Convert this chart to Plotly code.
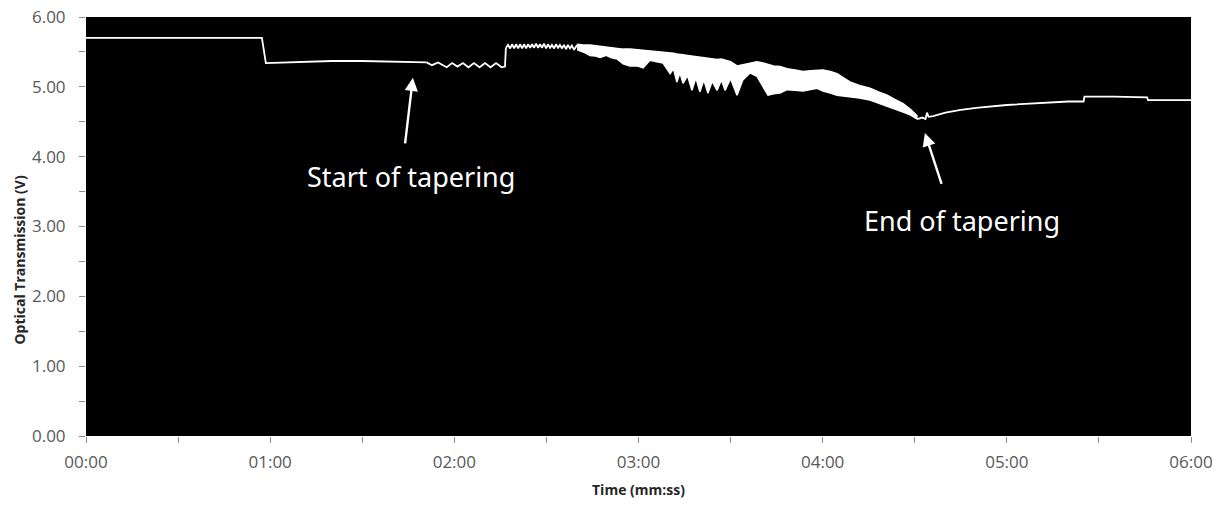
import plotly.graph_objects as go

# Elapsed time in seconds, optical transmission in volts
t_pre = [0, 10, 20, 30, 40, 50, 57.3, 58.6, 65, 70, 75, 80, 90, 100, 105, 111.0]
v_pre = [5.70, 5.70, 5.71, 5.71, 5.70, 5.71, 5.70, 5.34, 5.35, 5.35, 5.36, 5.37, 5.37, 5.36, 5.36, 5.35]

# First ripple, just before the step up
t_ripple1 = [111.0, 112.7, 114.7, 117.5, 119.3, 121.0, 122.8, 124.6, 126.4, 128.2,
             130.0, 131.8, 133.6, 135.4, 136.5, 136.8]
v_ripple1 = [5.35, 5.31, 5.35, 5.28, 5.34, 5.29, 5.34, 5.28, 5.34, 5.28,
             5.34, 5.28, 5.34, 5.28, 5.29, 5.56]

# Second ripple, after the step up
t_ripple2 = [136.8, 137.5, 138.2, 138.8, 139.5, 140.1, 140.8, 141.4, 142.1, 142.7,
             143.4, 144.0, 144.7, 145.3, 146.0, 146.6, 147.3, 147.9, 148.6, 149.2,
             149.9, 150.5, 151.2, 151.8, 152.5, 153.1, 153.8, 154.4, 155.1, 155.7,
             156.4, 157.0, 157.7, 158.3, 159.0, 160.0]
v_ripple2 = [5.56, 5.60, 5.55, 5.61, 5.55, 5.61, 5.55, 5.61, 5.55, 5.61,
             5.55, 5.61, 5.56, 5.61, 5.56, 5.62, 5.56, 5.61, 5.56, 5.62,
             5.55, 5.61, 5.56, 5.60, 5.55, 5.61, 5.56, 5.60, 5.55, 5.60,
             5.54, 5.60, 5.55, 5.59, 5.53, 5.60]

# Fast fluctuation during tapering: upper and lower extent of the signal
t_band = [160.0, 162.0, 164.2, 166.0, 167.5, 169.5, 171.0, 173.0, 175.0, 177.2,
          179.5, 181.5, 183.7, 186.0, 188.0, 190.3, 191.4, 192.5, 193.5, 194.5,
          196.0, 197.4, 198.7, 200.0, 201.3, 202.6, 204.0, 205.6, 207.0, 208.2,
          210.0, 212.1, 214.0, 216.3, 218.6, 220.6, 222.2, 224.0, 226.1, 228.4,
          231.0, 233.6, 236.0, 238.2, 240.1, 242.5, 244.7, 246.8, 248.9, 252.0,
          255.4, 258.0, 261.0, 263.5, 266.2, 268.5, 270.7]
v_band_hi = [5.61, 5.60, 5.60, 5.59, 5.58, 5.57, 5.56, 5.55, 5.54, 5.54,
             5.53, 5.53, 5.52, 5.51, 5.50, 5.49, 5.48, 5.47, 5.47, 5.46,
             5.45, 5.44, 5.43, 5.42, 5.42, 5.41, 5.40, 5.39, 5.40, 5.38,
             5.36, 5.30, 5.32, 5.34, 5.36, 5.34, 5.32, 5.30, 5.29, 5.26,
             5.24, 5.22, 5.23, 5.24, 5.24, 5.22, 5.19, 5.13, 5.07, 5.02,
             4.98, 4.93, 4.88, 4.82, 4.76, 4.68, 4.59]
v_band_lo = [5.53, 5.50, 5.45, 5.44, 5.42, 5.45, 5.42, 5.40, 5.33, 5.30,
             5.30, 5.27, 5.38, 5.36, 5.34, 5.19, 5.26, 5.07, 5.20, 5.05,
             5.16, 4.95, 5.13, 4.93, 5.10, 4.91, 5.08, 4.95, 5.10, 4.95,
             5.12, 4.88, 5.10, 5.20, 5.15, 5.00, 4.88, 4.90, 4.91, 4.96,
             4.95, 4.94, 4.96, 4.98, 4.94, 4.91, 4.88, 4.87, 4.86, 4.84,
             4.81, 4.77, 4.72, 4.68, 4.64, 4.60, 4.54]

# Recovery after tapering
t_post = [270.7, 271.1, 272.5, 273.5, 274.0, 274.5, 276, 280, 285, 290, 300, 310,
          320, 325.0, 325.3, 335, 345.7, 346.0, 360]
v_post = [4.54, 4.54, 4.56, 4.54, 4.63, 4.57, 4.58, 4.63, 4.67, 4.70, 4.74, 4.77,
          4.79, 4.79, 4.86, 4.86, 4.85, 4.81, 4.81]

x_tick_vals = [0, 60, 120, 180, 240, 300, 360]
x_tick_text = ["00:00", "01:00", "02:00", "03:00", "04:00", "05:00", "06:00"]
y_tick_vals = [0, 1, 2, 3, 4, 5, 6]

trace_color = "#ffffff"
axis_grey = "#8c8c8c"
label_grey = "#595959"
label_font = "Open Sans"

fig = go.Figure()

line_style = dict(color=trace_color, width=1.8)
for tx, vy in [(t_pre, v_pre), (t_ripple1, v_ripple1), (t_ripple2, v_ripple2), (t_post, v_post)]:
    fig.add_trace(go.Scatter(x=tx, y=vy, mode="lines", line=line_style,
                             hoverinfo="skip", showlegend=False))

fig.add_trace(go.Scatter(
    x=t_band + t_band[::-1],
    y=v_band_hi + v_band_lo[::-1],
    mode="lines", fill="toself", fillcolor=trace_color,
    line=dict(color=trace_color, width=1.5),
    hoverinfo="skip", showlegend=False,
))

fig.update_layout(
    width=1224, height=509,
    margin=dict(l=86, r=33, t=17, b=73, autoexpand=False),
    paper_bgcolor="#ffffff",
    plot_bgcolor="#000000",
    font=dict(family=label_font, color=label_grey, size=17),
    showlegend=False,
)

fig.update_xaxes(
    range=[0, 360], showgrid=False, zeroline=False, showline=False, automargin=False,
    tickmode="array", tickvals=x_tick_vals, ticktext=x_tick_text,
    ticks="outside", ticklen=6, tickcolor=axis_grey, tickwidth=1,
    tickfont=dict(family=label_font, size=17, color=label_grey),
    minor=dict(ticks="outside", dtick=30, ticklen=6, tickcolor=axis_grey, tickwidth=1, showgrid=False),
    ticklabelstandoff=5,
)
fig.update_yaxes(
    range=[0, 6], showgrid=False, zeroline=False, showline=False, automargin=False,
    tickmode="array", tickvals=y_tick_vals, tickformat=".2f",
    ticks="outside", ticklen=6, tickcolor=axis_grey, tickwidth=1,
    tickfont=dict(family=label_font, size=17, color=label_grey),
    minor=dict(ticks="outside", dtick=0.5, ticklen=6, tickcolor=axis_grey, tickwidth=1, showgrid=False),
    ticklabelstandoff=10,
)

# Axis titles
fig.add_annotation(text="<b>Time (mm:ss)</b>", xref="paper", yref="paper",
                   x=0.5, y=-0.128, xanchor="center", yanchor="middle", showarrow=False,
                   font=dict(family=label_font, size=14, color="#262626"))
fig.add_annotation(text="<b>Optical Transmission (V)</b>", xref="paper", yref="paper",
                   x=-0.061, y=0.42, xanchor="center", yanchor="middle", textangle=-90,
                   showarrow=False, font=dict(family=label_font, size=14, color="#262626"))

# Callouts
arrow_style = dict(showarrow=True, arrowhead=2, arrowsize=1.1, arrowwidth=2.4,
                   arrowcolor=trace_color, text="", xref="x", yref="y", axref="x", ayref="y")
fig.add_annotation(x=106.5, y=5.13, ax=103.9, ay=4.17, **arrow_style)
fig.add_annotation(x=273.3, y=4.34, ax=278.9, ay=3.59, **arrow_style)

callout_font = dict(family="Noto Sans", size=27, color="#ffffff")
fig.add_annotation(text="Start of tapering", x=105.9, y=3.71, xref="x", yref="y",
                   showarrow=False, xanchor="center", yanchor="middle", font=callout_font)
fig.add_annotation(text="End of tapering", x=285.4, y=3.08, xref="x", yref="y",
                   showarrow=False, xanchor="center", yanchor="middle", font=callout_font)

fig.write_html("out.html")
